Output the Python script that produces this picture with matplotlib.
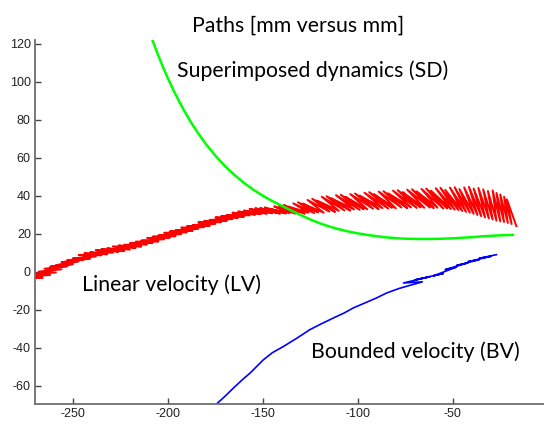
import matplotlib
matplotlib.use('Agg')
import matplotlib.pyplot as plt

plt.rcParams['axes.unicode_minus'] = False

# Linear velocity (LV): zig-zag path, upper and lower tips of each stroke
lv_top_x = [-276, -274, -271, -268, -265, -262, -259, -256, -253, -250, -247, -244, -241,
            -238, -235, -232, -229, -226, -223, -220, -217, -214, -211, -208, -205,
            -202, -199, -196, -193, -190, -187, -184, -181, -178, -175, -172, -169,
            -166, -163, -160, -157, -154,
            -151.5, -149, -146.5, -144, -141.5, -139, -136.5, -134, -131.5, -129,
            -126.5, -124, -121.5, -119, -116.5, -114, -111.5, -109, -106.5, -104,
            -101.5, -99, -96.5, -94, -91.5, -89, -86.5, -84, -81.5, -79,
            -76.5, -74, -71.5, -69, -66.5, -64, -61.5, -59, -56.5, -54,
            -51.5, -49, -46.5, -44, -41.5, -39, -36.5, -34, -31.5, -29,
            -27, -25, -23, -21.5]
lv_top_y = [-3.4, -2.4, -1.0, 0.2, 1.7, 2.8, 3.6, 5.2, 6.2, 7.2, 8.9, 9.8, 10.3,
            11.5, 12.0, 12.4, 13.5, 13.9, 14.3, 15.2, 15.9, 16.5, 17.9, 18.6, 19.2,
            20.6, 21.3, 21.9, 23.3, 24.1, 24.7, 26.1, 26.8, 27.4, 28.7, 29.4, 30.0,
            31.2, 31.8, 32.3, 33.2, 33.5,
            33.6, 34.0, 33.2, 34.5, 34.9, 35.2, 34.4, 36.1, 36.7, 36.0,
            37.9, 38.5, 37.6, 39.6, 39.9, 38.8, 40.4, 40.6, 39.5, 41.0,
            41.3, 40.2, 41.7, 42.0, 40.9, 42.3, 42.5, 41.4, 42.8, 43.0,
            42.0, 43.3, 43.5, 42.4, 43.7, 43.9, 42.8, 44.1, 44.3, 43.2,
            44.4, 44.6, 43.6, 44.5, 44.8, 43.9, 44.2, 43.5, 42.6, 42.9,
            41.6, 40.8, 39.6, 38.2]
lv_bot_x = [-266, -262, -259, -256, -253, -250, -247, -244, -241, -238, -235, -232, -229,
            -226, -223, -220, -217, -214, -211, -208, -205, -202, -199, -196, -193,
            -190, -187, -184, -181, -178, -175, -172, -169, -166, -163, -160, -157,
            -154, -151, -148, -145, -142,
            -141, -138, -136, -133, -131, -128, -126, -123, -121, -118,
            -115, -112, -110, -107, -104, -102, -99, -97, -95, -92,
            -89, -87, -84, -82, -80, -77, -74, -72, -69, -67,
            -65, -62, -60, -58, -55, -53, -51, -49, -47, -45,
            -43, -41, -39, -37, -35, -33, -31, -29, -27, -25,
            -23, -21, -19, -16.5]
lv_bot_y = [-3.0, -1.6, -0.3, 1.4, 3.0, 4.1, 5.5, 6.6, 7.1, 8.1, 8.8, 9.3, 10.1,
            10.7, 11.1, 11.8, 12.7, 13.4, 14.5, 15.4, 16.1, 17.2, 18.1, 18.8, 19.9,
            20.9, 21.6, 22.7, 23.6, 24.3, 25.3, 26.2, 26.9, 27.8, 28.6, 29.1, 29.8,
            30.2, 30.5, 30.6, 30.9, 31.0,
            30.6, 30.8, 31.0, 30.7, 30.9, 30.7, 31.2, 31.0, 31.4, 31.2,
            31.8, 31.6, 32.2, 32.4, 32.3, 32.9, 32.7, 33.1, 33.0, 33.3,
            33.1, 33.6, 33.4, 33.8, 33.5, 33.9, 33.6, 34.0, 33.7, 34.0,
            33.8, 33.9, 33.6, 33.8, 33.4, 33.5, 33.1, 32.8, 32.6, 32.1,
            31.6, 31.2, 30.6, 30.0, 29.3, 28.7, 28.2, 27.6, 27.0, 26.6,
            26.3, 25.8, 25.2, 24.1]

# Superimposed dynamics (SD)
sd_x = [-208.5, -206, -203, -200, -197, -194, -191, -188, -184, -180, -175,
        -170, -165, -160, -155, -150, -145, -140, -135, -130, -125, -120,
        -115, -110, -105, -100, -95, -90, -85, -80, -75, -70, -65, -60,
        -55, -50, -45, -40, -35, -30, -25, -18.3]
sd_y = [123.0, 116.3, 108.8, 101.9, 95.5, 89.6, 84.1, 79.0, 72.9, 67.3, 61.2,
        55.8, 51.1, 46.9, 43.3, 40.1, 37.3, 34.8, 32.3, 29.9, 27.6, 25.6,
        23.9, 22.5, 21.3, 20.3, 19.5, 18.8, 18.2, 17.8, 17.5, 17.4, 17.35, 17.4,
        17.5, 17.7, 18.0, 18.3, 18.7, 19.0, 19.3, 19.5]

# Bounded velocity (BV)
bv_x = [-175.5, -174.4, -170.0, -165.6, -160.0, -156.8, -149.8, -145.0, -139.3,
        -132.0, -125.3, -119.0, -113.0, -107.0, -102.5, -96.0, -90.2, -84.9,
        -78.0, -66.0, -76.0, -62.0, -70.0, -55.0, -60.0, -48.0, -54.0, -42.0,
        -48.0, -36.0, -42.0, -30.0, -36.0, -27.0]
bv_y = [-71.0, -69.5, -65.5, -61.2, -56.0, -53.3, -46.3, -42.5, -39.3,
        -34.8, -30.4, -27.2, -24.3, -21.5, -19.0, -16.2, -13.7, -11.1,
        -8.6, -5.2, -5.8, -2.5, -4.2, -0.8, -2.0, 2.6, 1.2, 4.8,
        3.4, 6.5, 5.4, 8.2, 7.2, 9.1]

xticks = [-250, -200, -150, -100, -50]
yticks = [-60, -40, -20, 0, 20, 40, 60, 80, 100, 120]

# interleave the tips into one path
lv_x = []
lv_y = []
for i in range(len(lv_top_x)):
    lv_x += [lv_top_x[i], lv_bot_x[i]]
    lv_y += [lv_top_y[i], lv_bot_y[i]]

fig = plt.figure(figsize=(5.44, 4.30), dpi=100)
ax = fig.add_axes([0.0643, 0.0605, 0.967, 0.8465])

ax.plot(lv_x, lv_y, color=(1, 0, 0), lw=1.4)
ax.plot(sd_x, sd_y, color=(0, 1, 0), lw=1.8)
ax.plot(bv_x, bv_y, color=(0, 0, 1), lw=1.2)

ax.set_xlim(-270, 7)
ax.set_ylim(-69.5, 122.1)
ax.set_xticks(xticks)
ax.set_yticks(yticks)

for s in ['top', 'right']:
    ax.spines[s].set_visible(False)
for s in ['left', 'bottom']:
    ax.spines[s].set_color('#6e6e6e')
    ax.spines[s].set_linewidth(1.3)
ax.tick_params(direction='in', length=4, width=1, color='#444444',
               labelsize=9, labelcolor='#222222', pad=3)
for lab in ax.get_xticklabels() + ax.get_yticklabels():
    lab.set_family('Liberation Sans')

tfont = 'Lato'
fs = 15.3
ax.set_title('Paths [mm versus mm]', family=tfont, fontsize=fs, pad=6)
ax.text(-195.3, 105.7, 'Superimposed dynamics (SD)', family=tfont, fontsize=fs,
        ha='left', va='center')
ax.text(-245.3, -6.7, 'Linear velocity (LV)', family=tfont, fontsize=fs,
        ha='left', va='center')
ax.text(-124.7, -42.1, 'Bounded velocity (BV)', family=tfont, fontsize=fs,
        ha='left', va='center')

fig.savefig('out.png', dpi=100)
